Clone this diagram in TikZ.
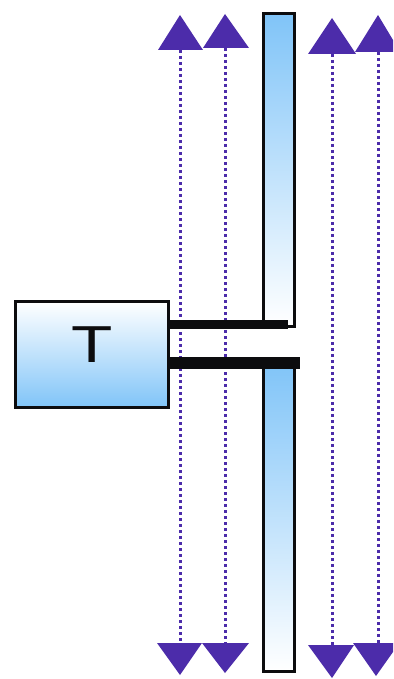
\documentclass[tikz,border=0pt]{standalone}
\usepackage{fontspec}
\setmainfont{Liberation Sans}
\definecolor{lblue}{RGB}{128,196,248}
\definecolor{tri}{RGB}{76,44,170}
\definecolor{ink}{RGB}{12,12,14}
\begin{document}
\begin{tikzpicture}[x=1pt,y=-1pt,
  bar/.style={draw=ink,line width=3pt},
  tribox/.style={fill=tri,draw=none},
  guide/.style={draw=tri,line width=3pt,dash pattern=on 3pt off 3pt}]
\useasboundingbox (0,0) rectangle (393,679);
% vertical rectangles
\shade[top color=lblue,bottom color=white] (263.5,13.5) rectangle (294.5,326.5);
\draw[bar] (263.5,13.5) rectangle (294.5,326.5);
\shade[top color=lblue,bottom color=white] (263.5,362) rectangle (294.5,671.5);
\draw[bar] (263.5,362) rectangle (294.5,671.5);
% box T
\node[draw=ink,line width=3pt,minimum width=153pt,minimum height=106pt,
  top color=white,bottom color=lblue,inner sep=0pt] (T) at (92,354.5) {};
\node[inner sep=0pt,text=ink,font=\fontsize{52}{52}\selectfont] (Tl) at (92,344.5) {\scalebox{1.3}[1]{T}};
% guides
\coordinate (g1t) at (180,50); \coordinate (g1b) at (180,643);
\coordinate (g2t) at (225,48); \coordinate (g2b) at (225,643);
\coordinate (g3t) at (332,54); \coordinate (g3b) at (332,645);
\coordinate (g4t) at (378,52); \coordinate (g4b) at (378,643);
\draw[guide] (g1t) -- (g1b);
\draw[guide] (g2t) -- (g2b);
\draw[guide] (g3t) -- (g3b);
\draw[guide] (g4t) -- (g4b);
% top triangles
\fill[tribox] (158,50) -- (180,15) -- (203,50) -- cycle;
\fill[tribox] (203,48) -- (225,14) -- (249,48) -- cycle;
\fill[tribox] (308,54) -- (332,18) -- (356,54) -- cycle;
\fill[tribox] (355,52) -- (378,15) -- (393,40) -- (393,52) -- cycle;
% bottom triangles
\fill[tribox] (157,643) -- (180,675) -- (202,643) -- cycle;
\fill[tribox] (202,643) -- (225,673) -- (249,643) -- cycle;
\fill[tribox] (308,645) -- (332,678) -- (354,645) -- cycle;
\fill[tribox] (353,643) -- (376,676) -- (393,652) -- (393,643) -- cycle;
% bars
\fill[ink] (T.east|-0,320) rectangle (288,329);
\fill[ink] (T.east|-0,357) rectangle (300,369);
\end{tikzpicture}
\end{document}
